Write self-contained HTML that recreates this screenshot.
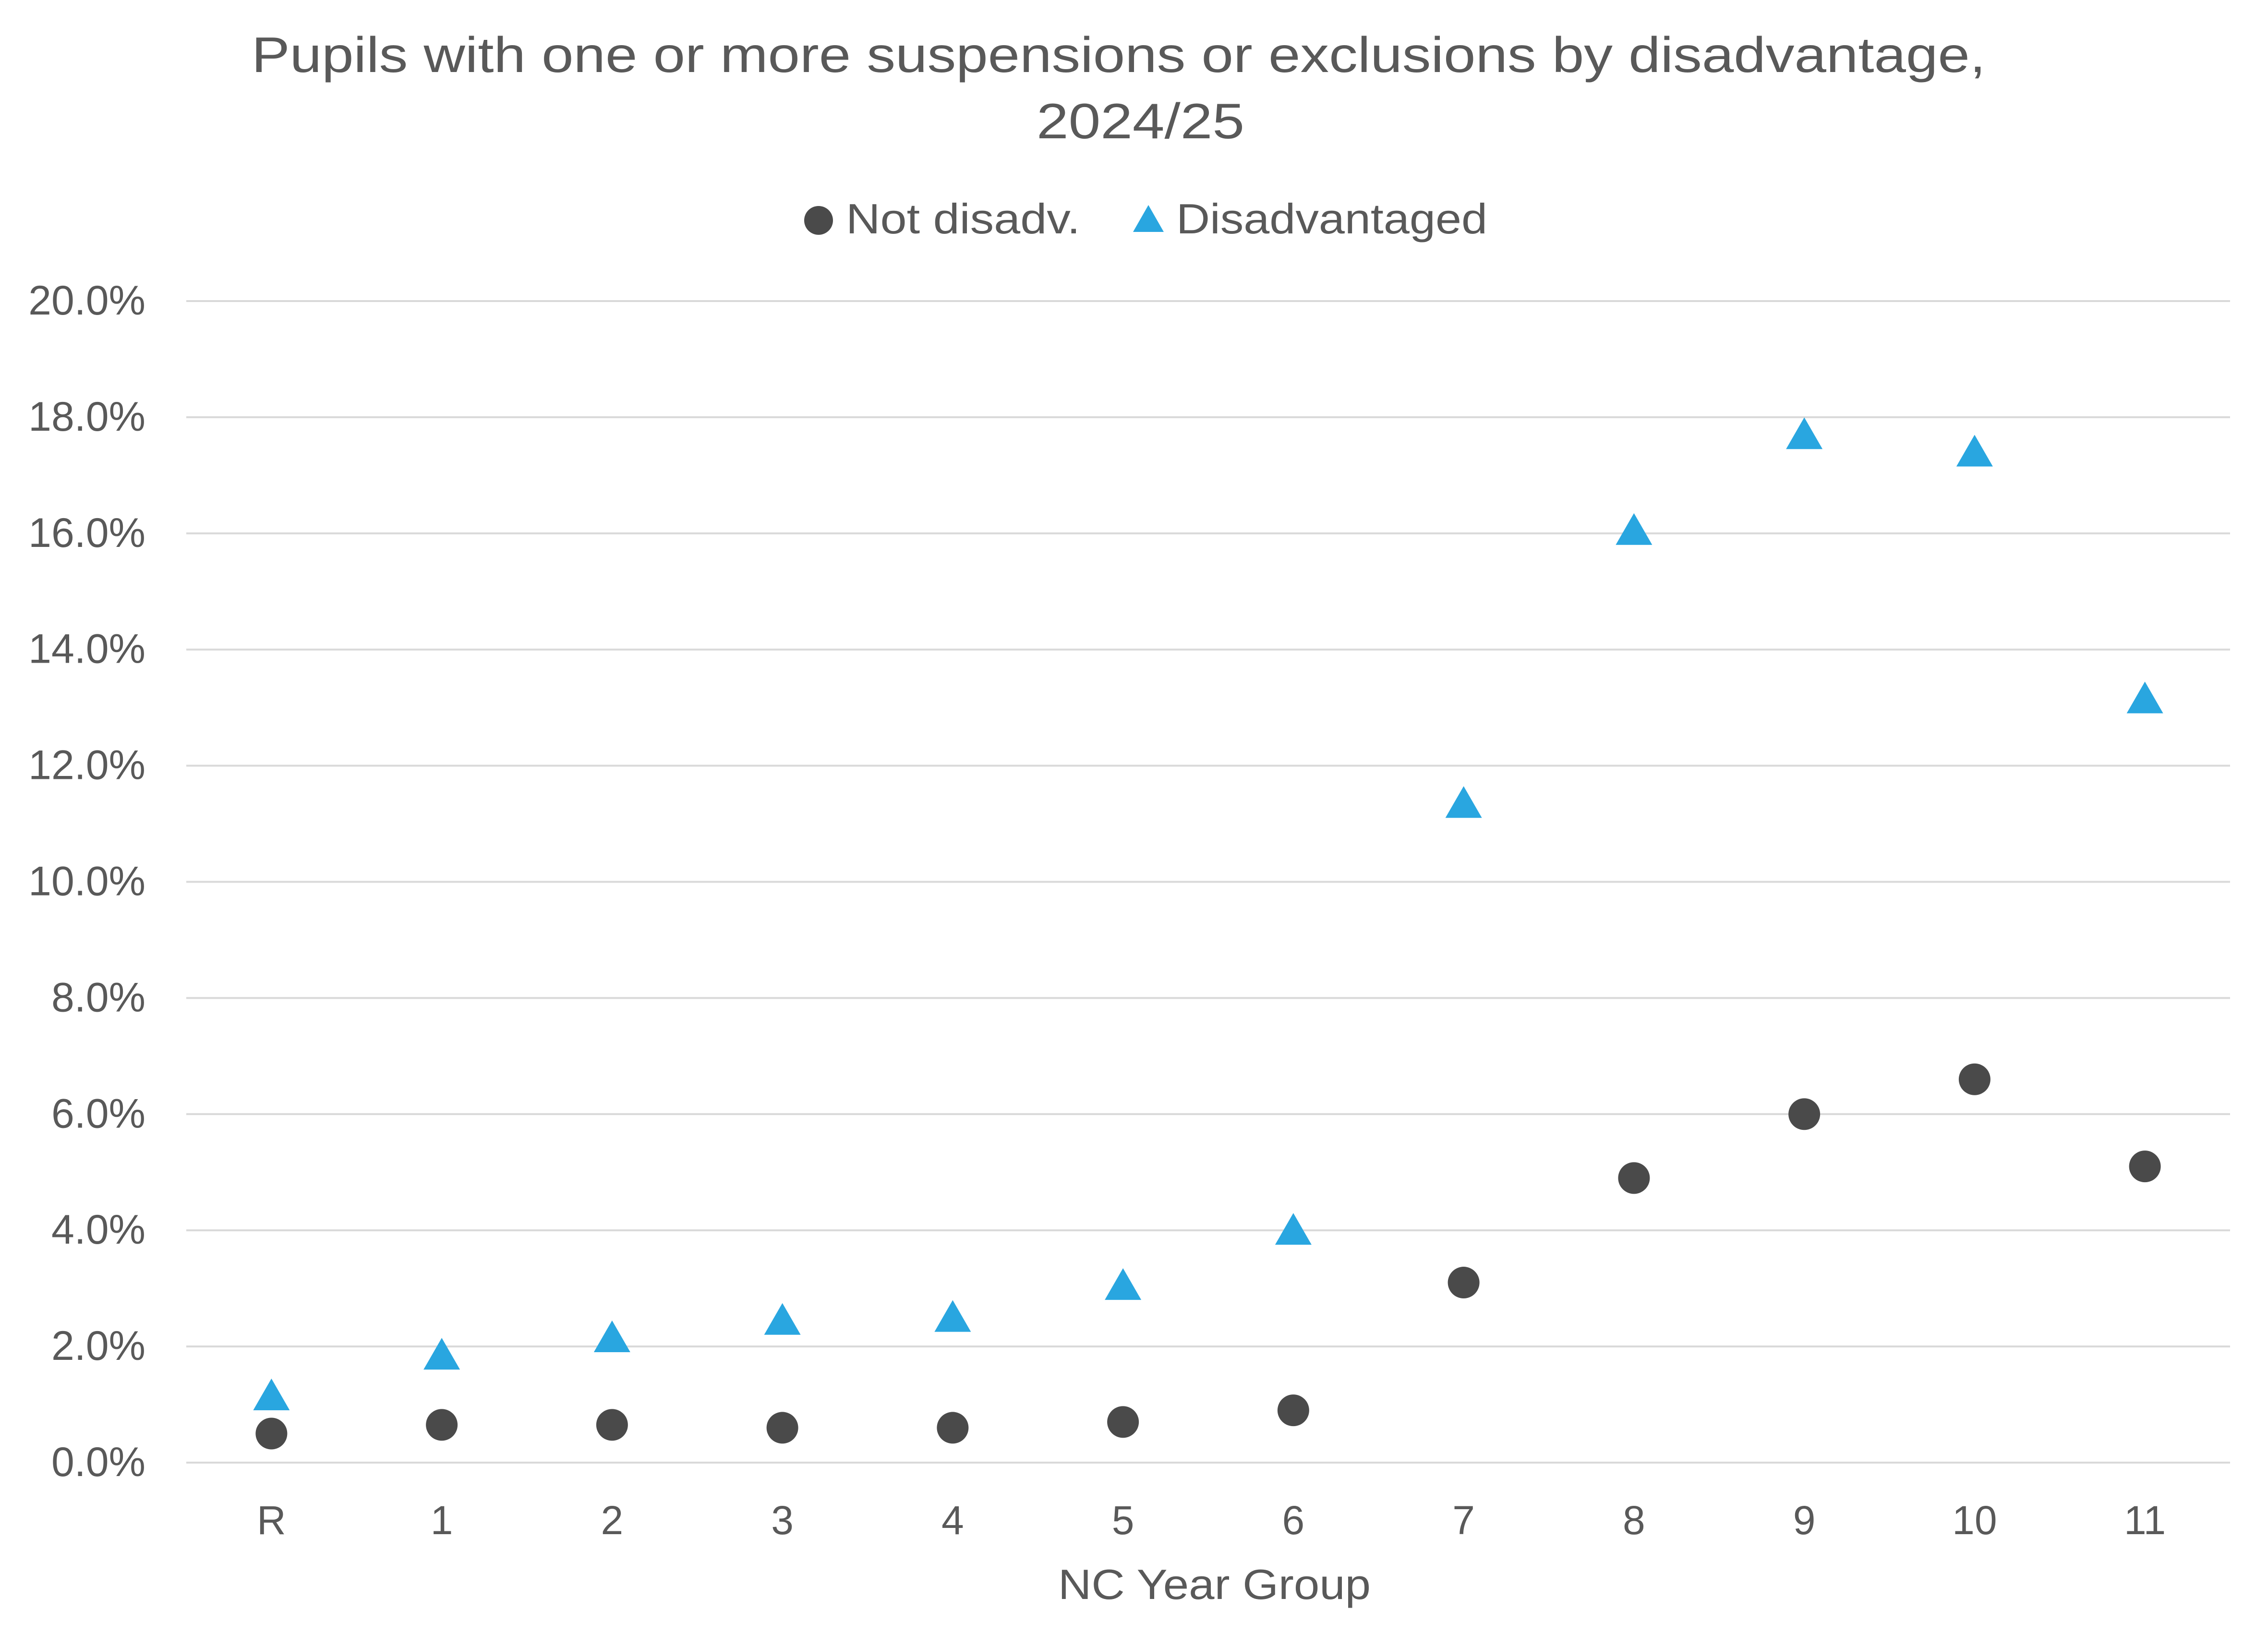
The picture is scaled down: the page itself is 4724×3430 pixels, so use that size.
<!DOCTYPE html>
<html><head><meta charset="utf-8"><style>
html,body{margin:0;padding:0;background:#fff}
svg{display:block}
text{font-family:"Liberation Sans",sans-serif;fill:#595959}
</style></head><body>
<svg id="chart" width="4724" height="3430" viewBox="0 0 4724 3430" xmlns="http://www.w3.org/2000/svg">
<text x="524" y="150" font-size="104" textLength="3612" lengthAdjust="spacingAndGlyphs">Pupils with one or more suspensions or exclusions by disadvantage,</text>
<text x="2159" y="288" font-size="104" textLength="433" lengthAdjust="spacingAndGlyphs">2024/25</text>
<g>
<g><circle cx="1705" cy="459" r="30" fill="#4a4a4a"/><text x="1762" y="486" font-size="88" textLength="488" lengthAdjust="spacingAndGlyphs">Not disadv.</text></g>
<g><polygon points="2392,427 2424,483 2360,483" fill="#29a6e0"/><text x="2450" y="486" font-size="88" textLength="648" lengthAdjust="spacingAndGlyphs">Disadvantaged</text></g>
</g>
<g id="grid"></g>
<g id="yticks"></g>
<g id="xticks"></g>
<g id="marks"></g>
<text x="2204" y="3330" font-size="88" textLength="651" lengthAdjust="spacingAndGlyphs">NC Year Group</text>
</svg>
<script>
const categories = ["R","1","2","3","4","5","6","7","8","9","10","11"];
const notDisadv = [0.5,0.65,0.65,0.6,0.6,0.7,0.9,3.1,4.9,6.0,6.6,5.1];
const disadvantaged = [1.1,1.8,2.1,2.4,2.45,3.0,3.95,11.3,16.0,17.65,17.35,13.1];
const yTicks = [0,2,4,6,8,10,12,14,16,18,20];
const yTickLabels = ["0.0%","2.0%","4.0%","6.0%","8.0%","10.0%","12.0%","14.0%","16.0%","18.0%","20.0%"];

const NS="http://www.w3.org/2000/svg";
const left=388,right=4645,y0=3046,y20=627;
const step=(right-left)/categories.length;
function xPos(i){return left+step*(i+0.5);}
function yPos(v){return y0+(y20-y0)*v/20;}
function mk(tag,attrs,parent){const e=document.createElementNS(NS,tag);for(const k in attrs)e.setAttribute(k,attrs[k]);parent.appendChild(e);return e;}
const grid=document.getElementById('grid'),yt=document.getElementById('yticks'),xt=document.getElementById('xticks'),marks=document.getElementById('marks');
yTicks.forEach((t,i)=>{
  const l=mk('line',{x1:left,x2:right,y1:yPos(t),y2:yPos(t),stroke:'#d9d9d9','stroke-width':4},grid);
  
  
  const tx=mk('text',{x:303,y:yPos(t)+28,'font-size':86,'text-anchor':'end'},yt);
  tx.textContent=yTickLabels[i];
  
  
});
categories.forEach((c,i)=>{
  const tx=mk('text',{x:xPos(i),y:3195,'font-size':84,'text-anchor':'middle'},xt);
  tx.textContent=c;
  
  
});
disadvantaged.forEach((v,i)=>{
  const x=xPos(i),y=yPos(v);
  const p=mk('polygon',{points:`${x},${y-42} ${x+38},${y+24} ${x-38},${y+24}`,fill:'#29a6e0'},marks);
  
  
});
notDisadv.forEach((v,i)=>{
  const c=mk('circle',{cx:xPos(i),cy:yPos(v),r:33,fill:'#4a4a4a'},marks);
  
  
});
</script>
</body></html>
